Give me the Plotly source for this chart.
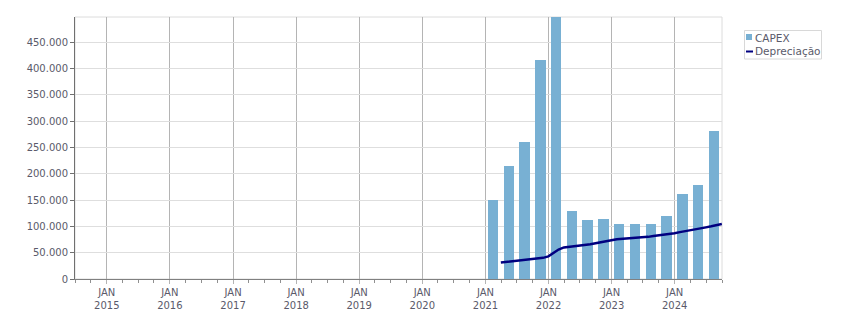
import plotly.graph_objects as go

# ---- data ----
capex_dates = [
    "2021-02-15", "2021-05-15", "2021-08-15", "2021-11-15",
    "2022-02-15", "2022-05-15", "2022-08-15", "2022-11-15",
    "2023-02-15", "2023-05-15", "2023-08-15", "2023-11-15",
    "2024-02-15", "2024-05-15", "2024-08-15",
]
capex_values = [
    150600, 215100, 260700, 416400,
    497000, 129700, 112600, 114500,
    105000, 105000, 105000, 120200,
    162000, 179100, 281600,
]

dep_dates = [
    "2021-03-31", "2021-04-30", "2021-05-31", "2021-06-30", "2021-07-31", "2021-08-31",
    "2021-09-30", "2021-10-31", "2021-11-30", "2021-12-31",
    "2022-01-31", "2022-02-28", "2022-03-31", "2022-04-30", "2022-05-31", "2022-06-30",
    "2022-07-31", "2022-08-31", "2022-09-30", "2022-10-31", "2022-11-30", "2022-12-31",
    "2023-01-31", "2023-02-28", "2023-03-31", "2023-04-30", "2023-05-31", "2023-06-30",
    "2023-07-31", "2023-08-31", "2023-09-30", "2023-10-31", "2023-11-30", "2023-12-31",
    "2024-01-31", "2024-02-29", "2024-03-31", "2024-04-30", "2024-05-31", "2024-06-30",
    "2024-07-31", "2024-08-31", "2024-09-30",
]
dep_values = [
    31500, 32500, 33500, 34800, 35800, 36800,
    37800, 39000, 40200, 43000,
    49500, 56000, 60000, 61000, 62000, 63200,
    64500, 66000, 68000, 69500, 71500, 73500,
    75500, 76000, 76500, 77000, 78000, 79000,
    80000, 81500, 82500, 84000, 85500, 87000,
    89000, 90500, 92500, 94500, 96500, 98000,
    100000, 102500, 104500,
]

x_tick_vals = ["2015-01-01", "2016-01-01", "2017-01-01", "2018-01-01", "2019-01-01",
               "2020-01-01", "2021-01-01", "2022-01-01", "2023-01-01", "2024-01-01"]
x_tick_text = ["JAN<br>2015", "JAN<br>2016", "JAN<br>2017", "JAN<br>2018", "JAN<br>2019",
               "JAN<br>2020", "JAN<br>2021", "JAN<br>2022", "JAN<br>2023", "JAN<br>2024"]
y_tick_vals = [0, 50000, 100000, 150000, 200000, 250000, 300000, 350000, 400000, 450000]

series_names = ["CAPEX", "Depreciação"]
BAR_COLOR = "#78b0d3"
LINE_COLOR = "#000080"

FONT = "Tahoma, DejaVu Sans, Verdana, sans-serif"
TXT = "#5a5a6a"

W, H = 851, 313
L, R, T, B = 75, 129, 17, 34
PW, PH = W - L - R, H - T - B


def px(x):
    return (x - L) / PW


def py(y):
    return (H - B - y) / PH


fig = go.Figure()
fig.add_trace(go.Bar(
    x=capex_dates, y=capex_values, name=series_names[0],
    marker=dict(color=BAR_COLOR, line=dict(width=0)),
    width=59 * 86400000, showlegend=False,
))
fig.add_trace(go.Scatter(
    x=dep_dates, y=dep_values, name=series_names[1], mode="lines",
    line=dict(color=LINE_COLOR, width=2.5), showlegend=False,
))

shapes = [
    dict(type="rect", xref="paper", yref="paper", x0=0, x1=1, y0=0, y1=1,
         line=dict(color="#dcdcdc", width=1), layer="below"),
    # legend box
    dict(type="rect", xref="paper", yref="paper", x0=px(744.5), x1=px(821.5), y0=py(59), y1=py(30.5),
         line=dict(color="#d8d8d8", width=1), fillcolor="white"),
    dict(type="rect", xref="paper", yref="paper", x0=px(746), x1=px(752), y0=py(40), y1=py(34),
         line=dict(width=0), fillcolor=BAR_COLOR),
    dict(type="line", xref="paper", yref="paper", x0=px(746), x1=px(753), y0=py(51.5), y1=py(51.5),
         line=dict(color=LINE_COLOR, width=2)),
]
annotations = [
    dict(xref="paper", yref="paper", x=px(753), y=py(37.5), text=series_names[0], showarrow=False,
         xanchor="left", yanchor="middle", font=dict(family=FONT, size=10.5, color=TXT)),
    dict(xref="paper", yref="paper", x=px(753), y=py(51), text=series_names[1], showarrow=False,
         xanchor="left", yanchor="middle", font=dict(family=FONT, size=10.5, color=TXT)),
]

fig.update_layout(
    width=W, height=H,
    margin=dict(l=L, r=R, t=T, b=B, autoexpand=False),
    paper_bgcolor="white", plot_bgcolor="white",
    font=dict(family=FONT, size=10, color=TXT),
    separators=",.",
    showlegend=False,
    bargap=0,
    shapes=shapes,
    annotations=annotations,
)
fig.update_xaxes(
    type="date", range=["2014-07-01", "2024-10-01"],
    tickmode="array", tickvals=x_tick_vals, ticktext=x_tick_text,
    showgrid=True, gridcolor="#b4b4b4", gridwidth=1,
    ticks="outside", ticklen=4, tickcolor="#b4b4b4",
    showline=True, linecolor="#808080", linewidth=1,
    minor=dict(dtick="M3", tick0="2015-01-01", ticks="outside", ticklen=3, tickcolor="#909090", showgrid=False),
    tickfont=dict(family=FONT, size=10, color=TXT),
    zeroline=False, automargin=False,
)
fig.update_yaxes(
    range=[0, 497500],
    tickmode="array", tickvals=y_tick_vals, tickformat=",d",
    showgrid=True, gridcolor="#dedede", gridwidth=1,
    ticks="outside", ticklen=4, tickcolor="#707070",
    showline=True, linecolor="#707070", linewidth=1,
    tickfont=dict(family=FONT, size=10, color=TXT),
    zeroline=False, automargin=False,
)

fig.write_html("out.html")
